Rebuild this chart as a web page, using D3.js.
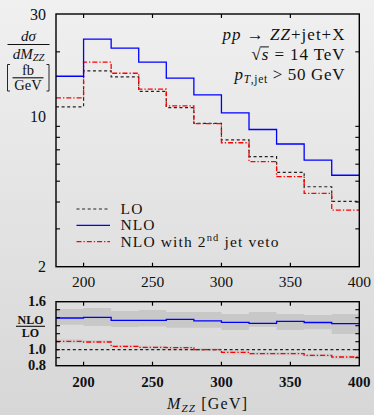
<!DOCTYPE html>
<html>
<head>
<meta charset="utf-8">
<script src="https://cdn.jsdelivr.net/npm/d3@7"></script>
<style>
  html, body { margin: 0; padding: 0; }
  svg { display: block; }
  text { font-family: "Liberation Serif", "DejaVu Serif", serif; fill: #111; }
</style>
</head>
<body>
<svg id="svg"></svg>
<script>
// bin edges and per-bin values
const bins = [180, 200, 220, 240, 260, 280, 300, 320, 340, 360, 380, 400];
const lo = [11.1, 16.3, 15.3, 13.1, 11.0, 9.3, 7.78, 6.50, 5.50, 4.71, 4.03];
const nlo = [15.4, 22.9, 20.8, 17.9, 15.1, 12.6, 10.4, 8.70, 7.45, 6.27, 5.33];
const nloVeto = [12.2, 17.9, 15.9, 13.4, 11.2, 9.26, 7.55, 6.17, 5.25, 4.39, 3.67];

const ratioLo = [1, 1, 1, 1, 1, 1, 1, 1, 1, 1, 1];
const ratioNlo = [1.396, 1.405, 1.367, 1.367, 1.38, 1.36, 1.342, 1.33, 1.355, 1.34, 1.325];
const ratioVeto = [1.105, 1.096, 1.042, 1.03, 1.025, 1.0, 0.967, 0.95, 0.95, 0.93, 0.909];
const bandNloHi = [1.509, 1.521, 1.484, 1.496, 1.471, 1.471, 1.446, 1.471, 1.446, 1.434, 1.446];
const bandNloLo = [1.312, 1.296, 1.284, 1.29, 1.275, 1.275, 1.246, 1.288, 1.246, 1.255, 1.196];
const bandVetoHi = [1.13, 1.12, 1.06, 1.05, 1.04, 1.02, 0.99, 0.97, 0.97, 0.95, 0.93];
const bandVetoLo = [1.08, 1.08, 1.02, 1.0, 0.99, 0.98, 0.94, 0.93, 0.93, 0.91, 0.88];

const xTicks = [200, 250, 300, 350, 400];
const yMainLabels = [2, 10, 30];
const yMainMinor = [3, 4, 5, 6, 7, 8, 9, 20];
const yRatioLabels = [0.8, 1.0, 1.6];
const yRatioTicks = [0.9, 1.0, 1.1, 1.2, 1.3, 1.4, 1.5];

const W = 374, H = 415;
const left = 56, right = 359.3;
const mainTop = 14, mainBot = 266.7;
const ratTop = 301.7, ratBot = 365.7;

const svg = d3.select("#svg").attr("width", W).attr("height", H);

// background gradient
const defs = svg.append("defs");
const grad = defs.append("linearGradient").attr("id", "bg")
  .attr("x1", 0).attr("y1", 0).attr("x2", 0).attr("y2", 1);
grad.append("stop").attr("offset", "0%").attr("stop-color", "#f0f0f0");
grad.append("stop").attr("offset", "100%").attr("stop-color", "#d7d7d7");
svg.append("rect").attr("width", W).attr("height", H).attr("fill", "url(#bg)");

defs.append("clipPath").attr("id", "clipMain").append("rect")
  .attr("x", left).attr("y", mainTop).attr("width", right - left).attr("height", mainBot - mainTop);
defs.append("clipPath").attr("id", "clipRat").append("rect")
  .attr("x", left).attr("y", ratTop).attr("width", right - left).attr("height", ratBot - ratTop);

const x = d3.scaleLinear().domain([180, 400]).range([left, right]);
const y = d3.scaleLog().domain([2, 30]).range([mainBot, mainTop]);
const yr = d3.scaleLinear().domain([0.8, 1.6]).range([ratBot, ratTop]);

const steps = vals => bins.map((b, i) => ({x: b, v: vals[Math.min(i, vals.length - 1)]}));

const mainLine = d3.line().x(d => x(d.x)).y(d => y(d.v)).curve(d3.curveStepAfter);
const ratLine = d3.line().x(d => x(d.x)).y(d => yr(d.v)).curve(d3.curveStepAfter);

const styles = {
  lo: {stroke: "#222", dash: "3,2.6", width: 1.2},
  nlo: {stroke: "#0000ff", dash: null, width: 1.3},
  veto: {stroke: "#ff0000", dash: "5,2,1.3,2", width: 1.3}
};

// ---- main panel ----
const gMain = svg.append("g").attr("clip-path", "url(#clipMain)");
[[lo, styles.lo], [nloVeto, styles.veto], [nlo, styles.nlo]].forEach(([vals, s]) => {
  gMain.append("path")
    .datum(steps(vals))
    .attr("d", mainLine)
    .attr("fill", "none")
    .attr("stroke", s.stroke)
    .attr("stroke-width", s.width)
    .attr("stroke-dasharray", s.dash);
});

// ---- ratio panel ----
const gRat = svg.append("g").attr("clip-path", "url(#clipRat)");
const bandArea = (hi, loV) => d3.area()
  .x(d => x(d.x)).y0(d => yr(loV[d.i])).y1(d => yr(hi[d.i]))
  .curve(d3.curveStepAfter)(bins.map((b, i) => ({x: b, i: Math.min(i, hi.length - 1)})));
gRat.append("path").attr("d", bandArea(bandNloHi, bandNloLo)).attr("fill", "#c8c8c8");
gRat.append("path").attr("d", bandArea(bandVetoHi, bandVetoLo)).attr("fill", "#cfcfcf");
[[ratioLo, styles.lo], [ratioVeto, styles.veto], [ratioNlo, styles.nlo]].forEach(([vals, s]) => {
  gRat.append("path")
    .datum(steps(vals))
    .attr("d", ratLine)
    .attr("fill", "none")
    .attr("stroke", s.stroke)
    .attr("stroke-width", s.width)
    .attr("stroke-dasharray", s.dash);
});

// ---- frames and ticks ----
const tickLen = 4;
function frame(top, bot) {
  svg.append("rect").attr("x", left).attr("y", top)
    .attr("width", right - left).attr("height", bot - top)
    .attr("fill", "none").attr("stroke", "#000").attr("stroke-width", 1.4);
  xTicks.forEach(t => {
    if (t >= 400) return;
    svg.append("line").attr("x1", x(t)).attr("x2", x(t)).attr("y1", top).attr("y2", top + tickLen)
      .attr("stroke", "#000").attr("stroke-width", 1.2);
    svg.append("line").attr("x1", x(t)).attr("x2", x(t)).attr("y1", bot).attr("y2", bot - tickLen)
      .attr("stroke", "#000").attr("stroke-width", 1.2);
  });
}
frame(mainTop, mainBot);
frame(ratTop, ratBot);

function yTicks(scale, vals) {
  vals.forEach(v => {
    const yy = scale(v);
    svg.append("line").attr("x1", left).attr("x2", left + tickLen).attr("y1", yy).attr("y2", yy)
      .attr("stroke", "#000").attr("stroke-width", 1.1);
    svg.append("line").attr("x1", right).attr("x2", right - tickLen).attr("y1", yy).attr("y2", yy)
      .attr("stroke", "#000").attr("stroke-width", 1.1);
  });
}
yTicks(y, yMainMinor);
yTicks(yr, yRatioTicks);

// tick labels
xTicks.forEach(t => {
  svg.append("text").attr("x", x(t)).attr("y", 287).attr("text-anchor", "middle")
    .attr("font-size", 15.5).text(t);
  svg.append("text").attr("x", x(t)).attr("y", 386.5).attr("text-anchor", "middle")
    .attr("font-size", 15).attr("font-weight", "bold").text(t);
});
yMainLabels.forEach(v => {
  svg.append("text").attr("x", 46).attr("y", y(v) + 5.5).attr("text-anchor", "end")
    .attr("font-size", 16).text(v);
});
yRatioLabels.forEach(v => {
  svg.append("text").attr("x", 46).attr("y", yr(v) + 4.5).attr("text-anchor", "end")
    .attr("font-size", 14.5).attr("font-weight", "bold").text(d3.format(".1f")(v));
});

// ---- y axis label: dσ/dM_ZZ [fb/GeV] ----
const yl = svg.append("g");
yl.append("text").attr("x", 28.5).attr("y", 41).attr("text-anchor", "middle")
  .attr("font-size", 15).attr("font-style", "italic").text("dσ");
yl.append("line").attr("x1", 7.5).attr("x2", 49.5).attr("y1", 44.5).attr("y2", 44.5)
  .attr("stroke", "#111").attr("stroke-width", 1.1);
const den = yl.append("text").attr("x", 28.5).attr("y", 58.5).attr("text-anchor", "middle")
  .attr("font-size", 15).attr("font-style", "italic");
den.append("tspan").text("dM");
den.append("tspan").attr("font-size", 10.5).attr("dy", 2.5).text("ZZ");
yl.append("text").attr("x", 28).attr("y", 75).attr("text-anchor", "middle")
  .attr("font-size", 14.5).text("fb");
yl.append("line").attr("x1", 12.5).attr("x2", 43.5).attr("y1", 77.8).attr("y2", 77.8)
  .attr("stroke", "#111").attr("stroke-width", 1.1);
yl.append("text").attr("x", 28).attr("y", 90).attr("text-anchor", "middle")
  .attr("font-size", 14.5).text("GeV");
yl.append("path").attr("d", "M10,64.5 H7.5 V91 H10").attr("fill", "none").attr("stroke", "#111").attr("stroke-width", 0.9);
yl.append("path").attr("d", "M46.5,64.5 H49 V91 H46.5").attr("fill", "none").attr("stroke", "#111").attr("stroke-width", 0.9);

// ratio label NLO/LO
svg.append("text").attr("x", 30.5).attr("y", 323.5).attr("text-anchor", "middle")
  .attr("font-size", 12).attr("font-weight", "bold").text("NLO");
svg.append("line").attr("x1", 16).attr("x2", 45).attr("y1", 326.3).attr("y2", 326.3)
  .attr("stroke", "#111").attr("stroke-width", 1.1);
svg.append("text").attr("x", 30.5).attr("y", 337).attr("text-anchor", "middle")
  .attr("font-size", 12).attr("font-weight", "bold").text("LO");

// x axis title
const xt = svg.append("text").attr("x", 207).attr("y", 409).attr("text-anchor", "middle")
  .attr("font-size", 16).attr("textLength", 80).attr("lengthAdjust", "spacing");
xt.append("tspan").attr("font-style", "italic").text("M");
xt.append("tspan").attr("font-style", "italic").attr("font-size", 11).attr("dy", 2.5).text("ZZ");
xt.append("tspan").attr("dy", -2.5).text(" [GeV]");

// ---- annotations ----
const ax = 344.5;
const a1 = svg.append("text").attr("x", ax).attr("y", 39.5).attr("text-anchor", "end")
  .attr("font-size", 17).attr("textLength", 122).attr("lengthAdjust", "spacing");
a1.append("tspan").attr("font-style", "italic").text("pp");
a1.append("tspan").text(" → ");
a1.append("tspan").attr("font-style", "italic").text("ZZ");
a1.append("tspan").text("+jet+X");

const a2 = svg.append("text").attr("x", ax).attr("y", 59.5).attr("text-anchor", "end")
  .attr("font-size", 17).attr("textLength", 93).attr("lengthAdjust", "spacing");
a2.append("tspan").text("√");
a2.append("tspan").attr("font-style", "italic").text("s");
a2.append("tspan").text(" = 14 TeV");
const sBox = a2.node().getExtentOfChar(1);
svg.append("line").attr("x1", sBox.x - 1).attr("x2", sBox.x + sBox.width + 0.5)
  .attr("y1", sBox.y + 2.4).attr("y2", sBox.y + 2.4).attr("stroke", "#111").attr("stroke-width", 1);

const a3 = svg.append("text").attr("x", ax).attr("y", 79.5).attr("text-anchor", "end")
  .attr("font-size", 17).attr("textLength", 110).attr("lengthAdjust", "spacing");
a3.append("tspan").attr("font-style", "italic").text("p");
a3.append("tspan").attr("font-style", "italic").attr("font-size", 11.5).attr("dy", 3).text("T");
a3.append("tspan").attr("font-size", 11.5).text(",jet");
a3.append("tspan").attr("dy", -3).text(" > 50 GeV");

// ---- legend ----
const legend = [
  {label: "LO", s: styles.lo, len: 22},
  {label: "NLO", s: styles.nlo, len: 34},
  {label: "NLO with 2", sup: "nd", rest: " jet veto", s: styles.veto, len: 158}
];
legend.forEach((d, i) => {
  const yy = 209 + i * 16.3;
  svg.append("line").attr("x1", 76.5).attr("x2", 110).attr("y1", yy).attr("y2", yy)
    .attr("stroke", d.s.stroke).attr("stroke-width", d.s.width).attr("stroke-dasharray", d.s.dash);
  const t = svg.append("text").attr("x", 120.5).attr("y", yy + 5).attr("font-size", 15.5)
    .attr("textLength", d.len).attr("lengthAdjust", "spacing");
  t.append("tspan").text(d.label);
  if (d.sup) {
    t.append("tspan").attr("font-size", 10.5).attr("dy", -6).text(d.sup);
    t.append("tspan").attr("dy", 6).text(d.rest);
  }
});
</script>
</body>
</html>
